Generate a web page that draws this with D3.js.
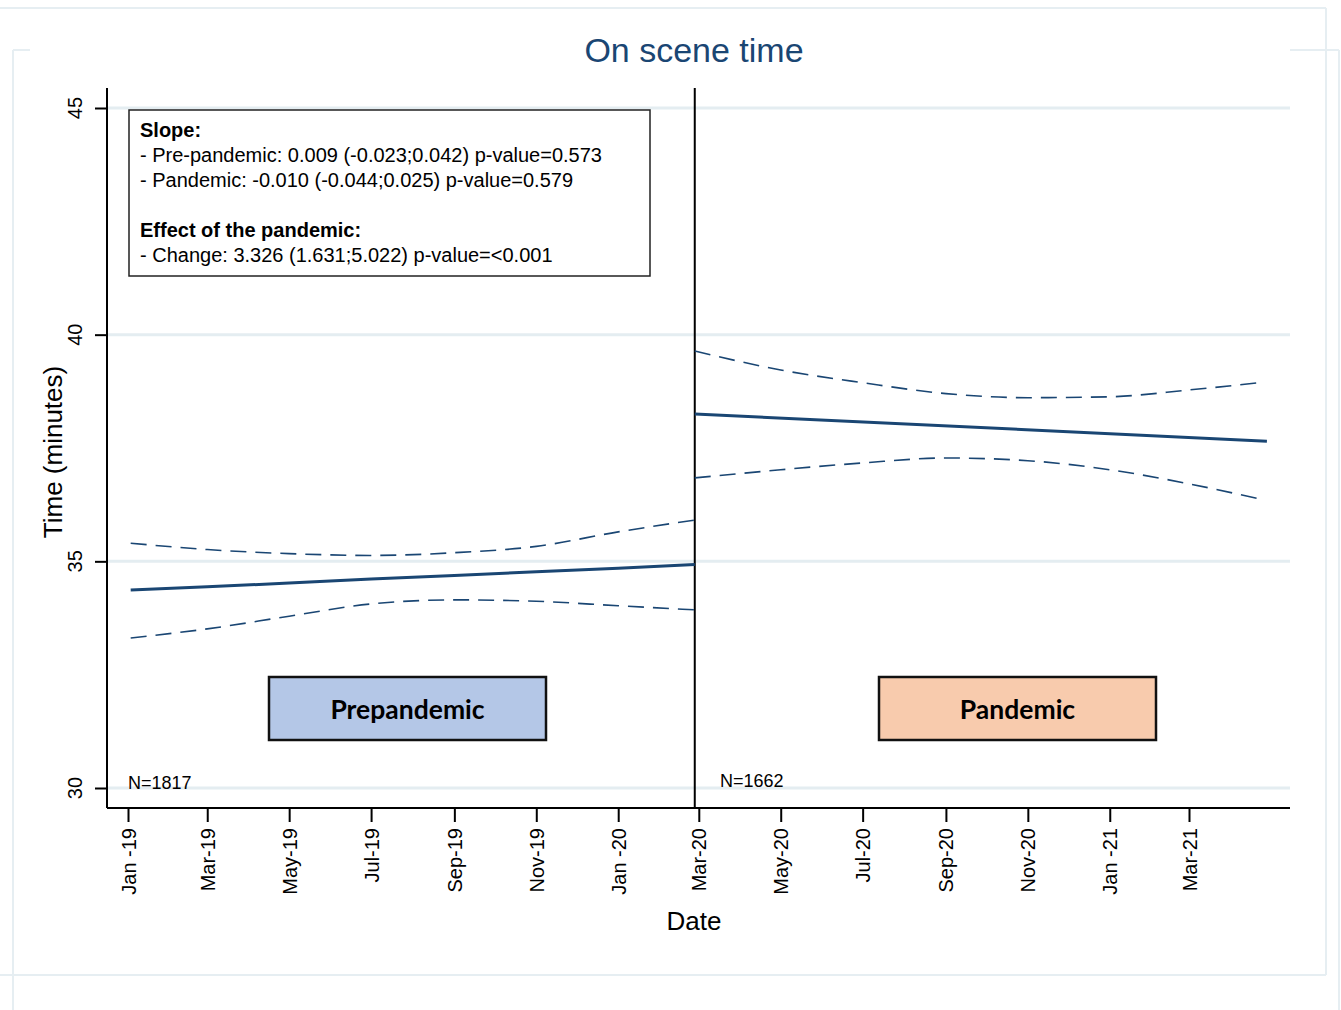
<!doctype html>
<html>
  <head>
    <script src="https://cdn.jsdelivr.net/npm/d3@7/dist/d3.min.js"></script>
    <style>
      body { margin: 0; background: #fff; }
      text { font-family: "Liberation Sans", Arial, sans-serif; }
      .axis path, .axis line { stroke: #000; stroke-width: 2px; }
    </style>
  </head>
  <body>
    <div id="chart"></div>
    <script>
      // ---- data ----
      var tickDates  = ["2019-01-01","2019-03-01","2019-05-01","2019-07-01","2019-09-01","2019-11-01","2020-01-01",
                        "2020-03-01","2020-05-01","2020-07-01","2020-09-01","2020-11-01","2021-01-01","2021-03-01"];
      var tickLabels = ["Jan -19","Mar-19","May-19","Jul-19","Sep-19","Nov-19","Jan -20",
                        "Mar-20","May-20","Jul-20","Sep-20","Nov-20","Jan -21","Mar-21"];
      var yTicks = [30, 35, 40, 45];
      var breakDate = "2020-02-27";

      // pre-pandemic period
      var preDates = ["2019-01-03","2019-03-01","2019-05-01","2019-07-01","2019-09-01","2019-11-01","2020-01-01","2020-02-27"];
      var preFit   = [34.37, 34.44, 34.52, 34.61, 34.69, 34.77, 34.85, 34.93];
      var preUpper = [35.40, 35.26, 35.17, 35.13, 35.19, 35.33, 35.65, 35.91];
      var preLower = [33.31, 33.51, 33.79, 34.06, 34.15, 34.12, 34.02, 33.93];

      // pandemic period
      var postDates  = ["2020-02-27","2020-05-01","2020-07-01","2020-09-01","2020-11-01","2021-01-01","2021-03-01","2021-04-22"];
      var postUpper  = [39.64, 39.22, 38.94, 38.70, 38.61, 38.63, 38.78, 38.94];
      var postLower  = [36.84, 37.02, 37.17, 37.28, 37.22, 37.02, 36.71, 36.38];
      var postFitDates = ["2020-02-27","2021-04-28"];
      var postFit      = [38.25, 37.65];

      var nLabels = ["N=1817", "N=1662"];
      var periodLabels = ["Prepandemic", "Pandemic"];
      var boxLines = [
        {t: "Slope:", b: true},
        {t: "- Pre-pandemic: 0.009 (-0.023;0.042) p-value=0.573", b: false},
        {t: "- Pandemic: -0.010 (-0.044;0.025) p-value=0.579", b: false},
        {t: "", b: false},
        {t: "Effect of the pandemic:", b: true},
        {t: "- Change: 3.326 (1.631;5.022) p-value=<0.001", b: false}
      ];

      var W = 1341, H = 1010;
      var navy = "#1a4673";
      var parse = d3.timeParse("%Y-%m-%d");

      var svg = d3.select("#chart").append("svg")
        .attr("width", W).attr("height", H);

      // faint outer frames of the graph region
      var frame = "#e6eef2";
      [[0,8,1326,8],[1326,8,1326,975],[0,975,1326,975],[13,50,13,1010],[13,50,30,50],[1290,50,1339,50],[1339,50,1339,1010]]
        .forEach(function(l) {
          svg.append("line").attr("x1", l[0]).attr("y1", l[1]).attr("x2", l[2]).attr("y2", l[3])
            .attr("stroke", frame).attr("stroke-width", 2);
        });

      var pLeft = 107, pRight = 1290, pTop = 88, pBottom = 808;

      var x = d3.scaleTime()
        .domain([parse("2019-01-01"), parse("2021-03-01")])
        .range([128, 1189]);
      var y = d3.scaleLinear().domain([30, 45]).range([788, 108]);

      // gridlines
      svg.selectAll(".grid").data(yTicks).enter().append("line")
        .attr("x1", pLeft).attr("x2", pRight)
        .attr("y1", function(d) { return y(d); }).attr("y2", function(d) { return y(d); })
        .attr("stroke", "#e4edf1").attr("stroke-width", 3);

      // title
      svg.append("text").attr("x", 694).attr("y", 62).attr("text-anchor", "middle")
        .style("font-size", "34px").style("fill", navy).text("On scene time");

      // y axis
      svg.append("g").attr("class", "axis")
        .attr("transform", "translate(" + pLeft + ",0)")
        .call(d3.axisLeft(y).tickValues(yTicks).tickSize(12).tickSizeOuter(0).tickFormat(""))
        .call(function(g) { g.select(".domain").attr("d", "M0," + pTop + "V" + pBottom); });
      svg.selectAll(".ylab").data(yTicks).enter().append("text")
        .attr("transform", function(d) { return "translate(82," + y(d) + ") rotate(-90)"; })
        .attr("text-anchor", "middle").style("font-size", "20px").text(function(d) { return d; });

      // x axis
      svg.append("g").attr("class", "axis xaxis")
        .attr("transform", "translate(0," + pBottom + ")")
        .call(d3.axisBottom(x).tickValues(tickDates.map(parse)).tickSize(14).tickSizeOuter(0)
          .tickFormat(function(d, i) { return tickLabels[i]; }))
        .call(function(g) { g.select(".domain").attr("d", "M" + pLeft + ",0H" + pRight); })
        .selectAll("text")
          .attr("transform", "rotate(-90)")
          .attr("x", -20).attr("y", 0).attr("dy", "0.35em")
          .attr("text-anchor", "end")
          .style("font-size", "20px").style("fill", "#000");

      // axis titles
      svg.append("text").attr("transform", "translate(62,452) rotate(-90)")
        .attr("text-anchor", "middle").style("font-size", "26px").text("Time (minutes)");
      svg.append("text").attr("x", 694).attr("y", 930).attr("text-anchor", "middle")
        .style("font-size", "26px").text("Date");

      // interruption line
      svg.append("line")
        .attr("x1", x(parse(breakDate))).attr("x2", x(parse(breakDate)))
        .attr("y1", pTop).attr("y2", pBottom)
        .attr("stroke", "#000").attr("stroke-width", 2);

      // series
      var line = d3.line().x(function(d) { return x(d[0]); }).y(function(d) { return y(d[1]); });
      var curve = d3.line().curve(d3.curveMonotoneX)
        .x(function(d) { return x(d[0]); }).y(function(d) { return y(d[1]); });
      function pts(dates, vals) { return dates.map(function(d, i) { return [parse(d), vals[i]]; }); }

      [[preDates, preUpper], [preDates, preLower], [postDates, postUpper], [postDates, postLower]]
        .forEach(function(s) {
          svg.append("path").attr("d", curve(pts(s[0], s[1])))
            .attr("fill", "none").attr("stroke", navy).attr("stroke-width", 1.6)
            .attr("stroke-dasharray", "16,9");
        });
      [[preDates, preFit], [postFitDates, postFit]].forEach(function(s) {
        svg.append("path").attr("d", line(pts(s[0], s[1])))
          .attr("fill", "none").attr("stroke", navy).attr("stroke-width", 3);
      });

      // info box
      svg.append("rect").attr("x", 129).attr("y", 110).attr("width", 521).attr("height", 166)
        .attr("fill", "#fff").attr("stroke", "#222").attr("stroke-width", 1.5);
      svg.selectAll(".boxline").data(boxLines).enter().append("text")
        .attr("x", 140).attr("y", function(d, i) { return 137 + i * 25; })
        .style("font-size", "20px").style("font-weight", function(d) { return d.b ? "bold" : "normal"; })
        .text(function(d) { return d.t; });

      // period labels
      var periodBoxes = [
        {x: 269, fill: "#b4c7e7"},
        {x: 879, fill: "#f8cbad"}
      ];
      periodBoxes.forEach(function(b, i) {
        svg.append("rect").attr("x", b.x).attr("y", 677).attr("width", 277).attr("height", 63)
          .attr("fill", b.fill).attr("stroke", "#111").attr("stroke-width", 2.5);
        svg.append("text").attr("x", b.x + 138.5).attr("y", 719).attr("text-anchor", "middle")
          .style("font-family", "Lato, 'Open Sans', sans-serif").style("font-weight", "bold")
          .style("font-size", "26.5px").text(periodLabels[i]);
      });

      // sample sizes
      svg.append("text").attr("x", 128).attr("y", 789).style("font-size", "18px").text(nLabels[0]);
      svg.append("text").attr("x", 720).attr("y", 787).style("font-size", "18px").text(nLabels[1]);
    </script>
  </body>
</html>
